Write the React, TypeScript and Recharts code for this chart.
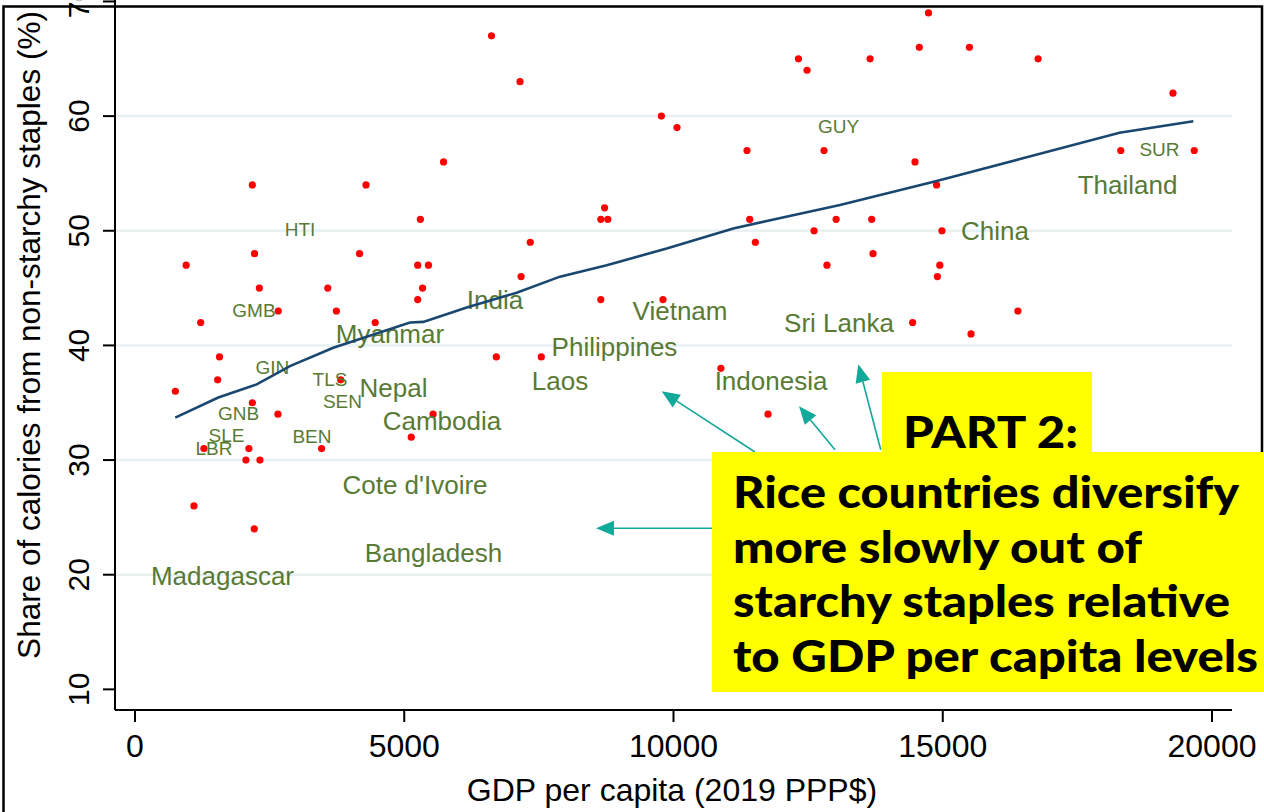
import React from "react";
import { ScatterChart, Scatter, XAxis, YAxis, ReferenceLine } from "recharts";

// chart is lifted so that the 70 tick sits on the cropped top edge, like the slide
const TOP = 40;
const FONT = "'Liberation Sans', Arial, Helvetica, sans-serif";
const GREEN = "#587a34";
const NAVY = "#1a476f";
const TEAL = "#12a89a";

const xTicks = [0, 5000, 10000, 15000, 20000];
const yTicks = [10, 20, 30, 40, 50, 60, 70];
const gridValues = [20, 30, 40, 50, 60];

// non-rice countries (red dots)
const countries = [
  { x: 750, y: 36 }, { x: 950, y: 47 }, { x: 1095, y: 26 }, { x: 1220, y: 42 },
  { x: 1280, y: 31 }, { x: 1535, y: 37 }, { x: 1570, y: 39 }, { x: 2060, y: 30 },
  { x: 2115, y: 31 }, { x: 2180, y: 54 }, { x: 2180, y: 35 }, { x: 2215, y: 24 },
  { x: 2220, y: 48 }, { x: 2310, y: 45 }, { x: 2320, y: 30 }, { x: 2655, y: 34 },
  { x: 2660, y: 43 }, { x: 3465, y: 31 }, { x: 3580, y: 45 }, { x: 3740, y: 43 },
  { x: 3820, y: 37 }, { x: 4170, y: 48 }, { x: 4290, y: 54 }, { x: 4460, y: 42 },
  { x: 5130, y: 32 }, { x: 5250, y: 47 }, { x: 5250, y: 44 }, { x: 5300, y: 51 },
  { x: 5340, y: 45 }, { x: 5450, y: 47 }, { x: 5535, y: 34 }, { x: 5730, y: 56 },
  { x: 6620, y: 67 }, { x: 6710, y: 39 }, { x: 7150, y: 63 }, { x: 7170, y: 46 },
  { x: 7340, y: 49 }, { x: 7545, y: 39 }, { x: 8650, y: 51 }, { x: 8650, y: 44 },
  { x: 8720, y: 52 }, { x: 8780, y: 51 }, { x: 9775, y: 60 }, { x: 9805, y: 44 },
  { x: 10065, y: 59 }, { x: 10880, y: 38 }, { x: 11365, y: 57 }, { x: 11415, y: 51 },
  { x: 11520, y: 49 }, { x: 11755, y: 34 }, { x: 12320, y: 65 }, { x: 12480, y: 64 },
  { x: 12610, y: 50 }, { x: 12795, y: 57 }, { x: 12850, y: 47 }, { x: 13020, y: 51 },
  { x: 13650, y: 65 }, { x: 13680, y: 51 }, { x: 13705, y: 48 }, { x: 14440, y: 42 },
  { x: 14485, y: 56 }, { x: 14565, y: 66 }, { x: 14735, y: 69 }, { x: 14885, y: 54 },
  { x: 14900, y: 46 }, { x: 14945, y: 47 }, { x: 14985, y: 50 }, { x: 15495, y: 66 },
  { x: 15525, y: 41 }, { x: 16395, y: 43 }, { x: 16770, y: 65 }, { x: 18305, y: 57 },
  { x: 19275, y: 62 }, { x: 19670, y: 57 },
];

// lowess fit
const fitLine = [
  { x: 748, y: 33.7 }, { x: 1547, y: 35.45 }, { x: 2260, y: 36.6 }, { x: 2878, y: 38.2 },
  { x: 3682, y: 39.8 }, { x: 5107, y: 42.0 }, { x: 5354, y: 42.05 }, { x: 6160, y: 43.3 },
  { x: 7088, y: 44.6 }, { x: 7892, y: 46.0 }, { x: 8760, y: 47.0 }, { x: 9874, y: 48.45 },
  { x: 11110, y: 50.2 }, { x: 11731, y: 50.85 }, { x: 13092, y: 52.25 }, { x: 14887, y: 54.35 },
  { x: 16435, y: 56.25 }, { x: 18282, y: 58.55 }, { x: 19653, y: 59.55 },
];

// small ISO labels
const codeLabels = [
  { x: 3064, y: 50.1, name: "HTI" }, { x: 2210, y: 43.1, name: "GMB" },
  { x: 2553, y: 38.1, name: "GIN" }, { x: 3621, y: 37.05, name: "TLS" },
  { x: 3853, y: 35.1, name: "SEN" }, { x: 1922, y: 34.1, name: "GNB" },
  { x: 1699, y: 32.15, name: "SLE" }, { x: 1467, y: 31.05, name: "LBR" },
  { x: 3287, y: 32.1, name: "BEN" }, { x: 13064, y: 59.1, name: "GUY" },
  { x: 19025, y: 57.15, name: "SUR" },
];

// rice countries
const riceLabels = [
  { x: 4735, y: 41, name: "Myanmar" }, { x: 4800, y: 36.35, name: "Nepal" },
  { x: 5701, y: 33.4, name: "Cambodia" }, { x: 5200, y: 27.9, name: "Cote d'Ivoire" },
  { x: 5543, y: 21.95, name: "Bangladesh" }, { x: 1625, y: 19.9, name: "Madagascar" },
  { x: 6685, y: 44, name: "India" }, { x: 7892, y: 36.9, name: "Laos" },
  { x: 8904, y: 39.9, name: "Philippines" }, { x: 10121, y: 43, name: "Vietnam" },
  { x: 11811, y: 36.9, name: "Indonesia" }, { x: 13073, y: 41.95, name: "Sri Lanka" },
  { x: 15970, y: 50, name: "China" }, { x: 18431, y: 54, name: "Thailand" },
];

// annotation arrows: from the callout box to the tip
const arrows = [
  { x1: 11513, y1: 30.7, x2: 9781, y2: 36.0 },
  { x1: 12999, y1: 30.9, x2: 12331, y2: 34.7 },
  { x1: 13848, y1: 30.9, x2: 13432, y2: 38.35 },
  { x1: 10802, y1: 24.05, x2: 8561, y2: 24.05 },
];

const calloutLines = [
  { text: "Rice countries diversify", w: 506 },
  { text: "more slowly out of", w: 409 },
  { text: "starchy staples relative", w: 497 },
  { text: "to GDP per capita levels", w: 525 },
];

const Dot = (p: any) => <circle cx={p.cx} cy={p.cy} r={3.6} fill="#ff0000" />;

const textShape = (size: number) => (p: any) => (
  <text x={p.cx} y={p.cy} dy="0.36em" textAnchor="middle" fontSize={size} fill={GREEN}>
    {p.payload.name}
  </text>
);

const YTick = (p: any) => (
  <text transform={`translate(${p.x},${p.y}) rotate(-90)`} textAnchor="middle" fontSize={30} fill="#000">
    {p.payload.value}
  </text>
);

const Arrow = (p: any) => {
  const { x1, y1, x2, y2 } = p;
  const a = Math.atan2(y2 - y1, x2 - x1);
  const L = 18, W = 7.5;
  const bx = x2 - L * Math.cos(a), by = y2 - L * Math.sin(a);
  const pts = [
    [x2, y2],
    [bx + W * Math.sin(a), by - W * Math.cos(a)],
    [bx - W * Math.sin(a), by + W * Math.cos(a)],
  ].map((q) => q.join(",")).join(" ");
  return (
    <g>
      <line x1={x1} y1={y1} x2={bx} y2={by} stroke={TEAL} strokeWidth={1.6} />
      <polygon points={pts} fill={TEAL} />
    </g>
  );
};

export default function App() {
  return (
    <div style={{ position: "absolute", left: 0, top: 0, width: 1264, height: 812, overflow: "hidden", background: "#fff", fontFamily: FONT }}>
      <div style={{ position: "absolute", left: 0, top: -TOP }}>
        <ScatterChart width={1264} height={852} margin={{ top: 30, right: 32, bottom: 12, left: 10 }}>
          <XAxis
            type="number"
            dataKey="x"
            domain={[-371, 20371]}
            ticks={xTicks}
            allowDataOverflow
            height={90}
            tickSize={12}
            tickMargin={12}
            axisLine={{ stroke: "#000", strokeWidth: 2 }}
            tickLine={{ stroke: "#000", strokeWidth: 2 }}
            tick={{ fill: "#000", fontSize: 32 }}
            label={() => (
              <text x={672} y={801 + TOP} textAnchor="middle" fontSize={32} fill="#000">
                GDP per capita (2019 PPP$)
              </text>
            )}
          />
          <YAxis
            type="number"
            dataKey="y"
            domain={[8.2, 71]}
            ticks={yTicks}
            allowDataOverflow
            width={105}
            tickSize={12}
            tickMargin={14}
            axisLine={{ stroke: "#000", strokeWidth: 2 }}
            tickLine={{ stroke: "#000", strokeWidth: 2 }}
            tick={<YTick />}
            label={() => (
              <text transform={`translate(40,${335 + TOP}) rotate(-90)`} textAnchor="middle" fontSize={31.5} fill="#000">
                Share of calories from non-starchy staples (%)
              </text>
            )}
          />
          {gridValues.map((v) => (
            <ReferenceLine key={v} y={v} stroke="#e9f0f2" strokeWidth={2.5} />
          ))}
          <Scatter data={countries} shape={Dot} isAnimationActive={false} />
          <Scatter data={codeLabels} shape={textShape(19)} isAnimationActive={false} />
          <Scatter data={riceLabels} shape={textShape(26)} isAnimationActive={false} />
          <Scatter
            data={fitLine}
            line={{ stroke: NAVY, strokeWidth: 2.6 }}
            lineType="joint"
            shape={() => <g />}
            isAnimationActive={false}
          />
          {arrows.map((a, i) => (
            <ReferenceLine
              key={i}
              segment={[{ x: a.x1, y: a.y1 }, { x: a.x2, y: a.y2 }]}
              shape={Arrow}
              ifOverflow="visible"
            />
          ))}
        </ScatterChart>
      </div>

      <svg width={1264} height={812} style={{ position: "absolute", left: 0, top: 0, pointerEvents: "none" }}>
        {/* slide frame */}
        <path d="M3.5 812 V6.5 H1262 V692" fill="none" stroke="#000" strokeWidth={2.5} />
        {/* callout */}
        <rect x={882} y={372} width={210} height={81} fill="#ffff00" />
        <rect x={712} y={452} width={552} height={240} fill="#ffff00" />
        <g fontFamily="Lato, 'Open Sans', sans-serif" fontWeight={900} fontSize={44} fill="#000">
          <text x={903} y={448} textLength={175} lengthAdjust="spacingAndGlyphs">PART 2:</text>
          {calloutLines.map((l, i) => (
            <text key={i} x={733} y={508 + i * 54.6} textLength={l.w} lengthAdjust="spacingAndGlyphs">
              {l.text}
            </text>
          ))}
        </g>
      </svg>
    </div>
  );
}
